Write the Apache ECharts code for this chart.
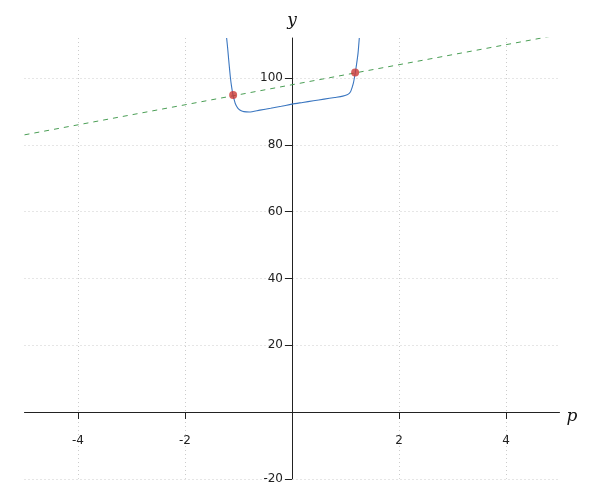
<!DOCTYPE html>
<html>
<head>
<meta charset="utf-8">
<script src="https://cdn.jsdelivr.net/npm/echarts@6/dist/echarts.min.js"></script>
<style>html,body{margin:0;padding:0;background:#fff}#c{width:600px;height:500px}</style>
</head>
<body>
<div id="c"></div>
<script>
// Blue curve samples (p, y)
const curveP = [-1.222, -1.20, -1.183, -1.153, -1.13, -1.103, -1.08, -1.06, -1.03, -0.996, -0.95, -0.90, -0.80, -0.60, -0.40, -0.20, 0, 0.20, 0.40, 0.60, 0.80, 0.95, 1.03, 1.07, 1.10, 1.146, 1.184, 1.209, 1.234, 1.258];
const curveY = [112, 108.5, 105.4, 100.4, 97.5, 94.9, 93.5, 92.4, 91.4, 90.7, 90.2, 89.95, 89.85, 90.4, 90.95, 91.55, 92.2, 92.7, 93.2, 93.7, 94.2, 94.6, 95.0, 95.4, 96.1, 98.4, 101.7, 104.4, 107.4, 112];
// Dashed green line endpoints
const lineP = [-5, 5];
const lineY = [83, 113];
// Red intersection points
const dotP = [-1.10, 1.18];
const dotY = [94.9, 101.7];
// Ticks
const xTicks = [-4, -2, 0, 2, 4];
const xLabels = [-4, -2, 2, 4];
const yTicks = [-20, 0, 20, 40, 60, 80, 100];
const yLabels = [-20, 20, 40, 60, 80, 100];
const xRange = [-5, 5];
const yRange = [-20, 112];

const zip = (a, b) => a.map((v, i) => [v, b[i]]);

const W = 600, H = 500;
const G = {left: 24.5, right: 40.5, top: 38, bottom: 21.2};
const plotW = W - G.left - G.right, plotH = H - G.top - G.bottom;
// offsets so the axes sit on the zero lines
const xOffset = -plotH * (0 - yRange[0]) / (yRange[1] - yRange[0]);
const yOffset = -plotW * (0 - xRange[0]) / (xRange[1] - xRange[0]);

const chart = echarts.init(document.getElementById('c'), null, {renderer: 'canvas'});
const axisCommon = {
  type: 'value',
  axisLine: {onZero: false, lineStyle: {color: '#222', width: 1}},
  axisTick: {show: true, length: 7, lineStyle: {color: '#222'}},
  splitLine: {show: true, lineStyle: {color: '#cccccc', type: [1, 3], width: 1}},
  axisLabel: {color: '#222', fontFamily: 'DejaVu Sans', fontSize: 12},
  nameTextStyle: {fontFamily: 'DejaVu Serif', fontStyle: 'italic', fontSize: 17, color: '#111'}
};
chart.setOption({
  animation: false,
  grid: Object.assign({containLabel: false, outerBoundsMode: 'none'}, G),
  xAxis: Object.assign({}, axisCommon, {
    min: xRange[0], max: xRange[1], position: 'bottom', offset: xOffset,
    name: 'p', nameLocation: 'end', nameGap: 7,
    nameTextStyle: Object.assign({}, axisCommon.nameTextStyle, {verticalAlign: 'top', lineHeight: 10}),
    axisTick: Object.assign({}, axisCommon.axisTick, {customValues: xTicks}),
    axisLabel: Object.assign({}, axisCommon.axisLabel, {customValues: xLabels, margin: 23})
  }),
  yAxis: Object.assign({}, axisCommon, {
    min: yRange[0], max: yRange[1], position: 'left', offset: yOffset,
    name: 'y', nameLocation: 'end', nameGap: 9,
    axisTick: Object.assign({}, axisCommon.axisTick, {customValues: yTicks}),
    axisLabel: Object.assign({}, axisCommon.axisLabel, {customValues: yLabels, margin: 9})
  }),
  series: [
    {
      type: 'line', data: zip(lineP, lineY), symbol: 'none', clip: true,
      lineStyle: {color: '#4a9e55', width: 1, type: [5, 5]}, z: 2
    },
    {
      type: 'line', data: zip(curveP, curveY), symbol: 'none', clip: true,
      smooth: 0.25,
      lineStyle: {color: '#3a76c0', width: 1.1}, z: 3
    },
    {
      type: 'scatter', data: zip(dotP, dotY), symbol: 'circle', symbolSize: 8,
      itemStyle: {color: '#cc3a36'}, z: 4
    }
  ]
});
</script>
</body>
</html>
